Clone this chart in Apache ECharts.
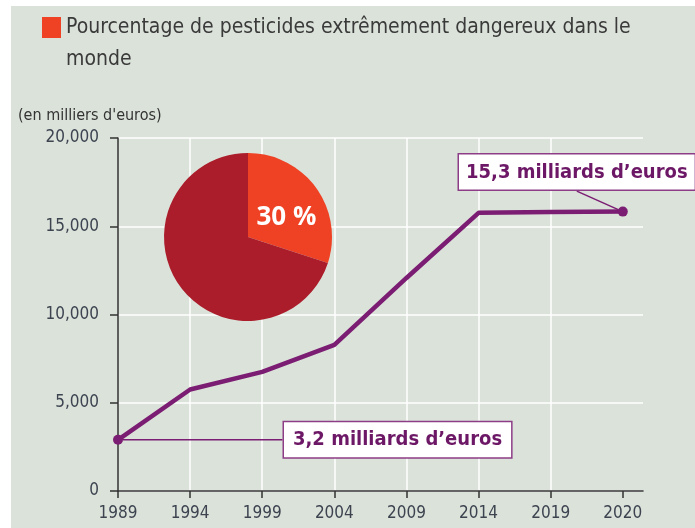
<!DOCTYPE html>
<html>
<head>
<meta charset="utf-8">
<script src="https://cdn.jsdelivr.net/npm/echarts@6/dist/echarts.min.js"></script>
<style>
html,body{margin:0;padding:0;background:#ffffff;width:695px;height:528px;overflow:hidden;}
#chart{position:absolute;left:11px;top:6px;width:684px;height:522px;}
</style>
</head>
<body>
<div id="chart"></div>
<script>
// ---- data ----
const years = ['1989', '1994', '1999', '2004', '2009', '2014', '2019', '2020'];
const sales = [2900, 5750, 6750, 8280, 12070, 15760, 15810, 15830];
const yTicks = [0, 5000, 10000, 15000, 20000];
const pieNames = ['Pourcentage de pesticides extrêmement dangereux dans le monde', 'Autres pesticides'];
const pieValues = [30, 70];
const firstLabel = '3,2 milliards d’euros';
const lastLabel = '15,3 milliards d’euros';
const unitLabel = "(en milliers d'euros)";

const FONT = "'DejaVu Sans Condensed', 'Liberation Sans Narrow', sans-serif";
const PURPLE = '#7b1d72';

const chart = echarts.init(document.getElementById('chart'));

const lineData = years.map((y, i) => {
  const item = { value: [i, sales[i]] };
  if (i === 0 || i === years.length - 1) {
    item.symbol = 'circle';
    item.symbolSize = 10;
    item.label = {
      show: true,
      position: i === 0 ? 'right' : 'top',
      distance: 4,
      formatter: i === 0 ? firstLabel : lastLabel,
      backgroundColor: '#ffffff',
      borderColor: '#8c3d86',
      borderWidth: 1.5,
      padding: i === 0 ? [8, 9, 7, 9] : [8, 7, 7, 7],
      fontFamily: FONT,
      fontSize: 20,
      fontWeight: 'bold',
      color: '#6d1866'
    };
  } else {
    item.symbol = 'none';
  }
  return item;
});

const option = {
  backgroundColor: '#dbe2da',
  animation: false,
  title: {
    text: unitLabel,
    left: 2,
    top: 97,
    textStyle: { fontFamily: FONT, fontSize: 16, fontWeight: 'normal', color: '#333333' }
  },
  legend: {
    left: 26,
    top: 1,
    data: [pieNames[0]],
    // filled square in the top part, invisible extender below so text line 1 aligns with square
    icon: 'path://M0,0H19V21H0Z M0,54L0.01,54L0.01,53.99Z',
    itemWidth: 19,
    itemHeight: 54,
    selectedMode: false,
    textStyle: {
      fontFamily: FONT,
      fontSize: 21,
      color: '#3a3a3a',
      width: 600,
      overflow: 'break',
      lineHeight: 32
    }
  },
  grid: { left: 107, top: 132, right: 52, bottom: 37, containLabel: false },
  xAxis: {
    type: 'value',
    min: 0,
    max: 7.28,
    interval: 1,
    axisLine: { show: true, lineStyle: { color: '#333333', width: 1.5 } },
    axisTick: { show: true, length: 7, lineStyle: { color: '#333333', width: 1.5 }, customValues: years.map((y, i) => i) },
    axisLabel: {
      customValues: years.map((y, i) => i),
      formatter: v => (Number.isInteger(v) ? years[v] : ''),
      fontFamily: FONT, fontSize: 17, color: '#3d4450', margin: 14
    },
    splitLine: { show: true, showMinLine: false, showMaxLine: false, lineStyle: { color: '#ffffff', width: 1.5 } }
  },
  yAxis: {
    type: 'value',
    min: 0,
    max: 20000,
    interval: 5000,
    axisLine: { show: true, lineStyle: { color: '#333333', width: 1.5 } },
    axisTick: { show: true, length: 8, lineStyle: { color: '#333333', width: 1.5 } },
    axisLabel: {
      formatter: v => v.toLocaleString('en-US'),
      fontFamily: FONT, fontSize: 17, color: '#3d4450', margin: 19
    },
    splitLine: { show: true, lineStyle: { color: '#ffffff', width: 1.5 } }
  },
  series: [
    {
      type: 'line',
      data: lineData,
      lineStyle: { color: PURPLE, width: 4.5 },
      itemStyle: { color: PURPLE },
      labelLayout: function (p) {
        if (p.dataIndex === 0) return { dx: 157 };
        if (p.dataIndex === years.length - 1) return { dx: -46, dy: -13 };
        return {};
      },
      labelLine: { show: true, lineStyle: { color: PURPLE, width: 1.5 } },
      z: 3
    },
    {
      type: 'pie',
      center: [237, 231],
      radius: 84,
      startAngle: 90,
      clockwise: true,
      silent: true,
      data: pieNames.map((n, i) => ({ name: n, value: pieValues[i] })),
      color: ['#ef4124', '#ab1d2b'],
      label: {
        show: true,
        position: 'inside',
        formatter: p => (p.dataIndex === 0 ? p.value + ' %' : ''),
        color: '#ffffff',
        fontFamily: "'Open Sans', 'Noto Sans', sans-serif",
        fontSize: 26,
        fontWeight: 'bold'
      },
      labelLayout: { dx: 2, dy: 7 },
      labelLine: { show: false },
      z: 4
    }
  ]
};
chart.setOption(option);
</script>
</body>
</html>
